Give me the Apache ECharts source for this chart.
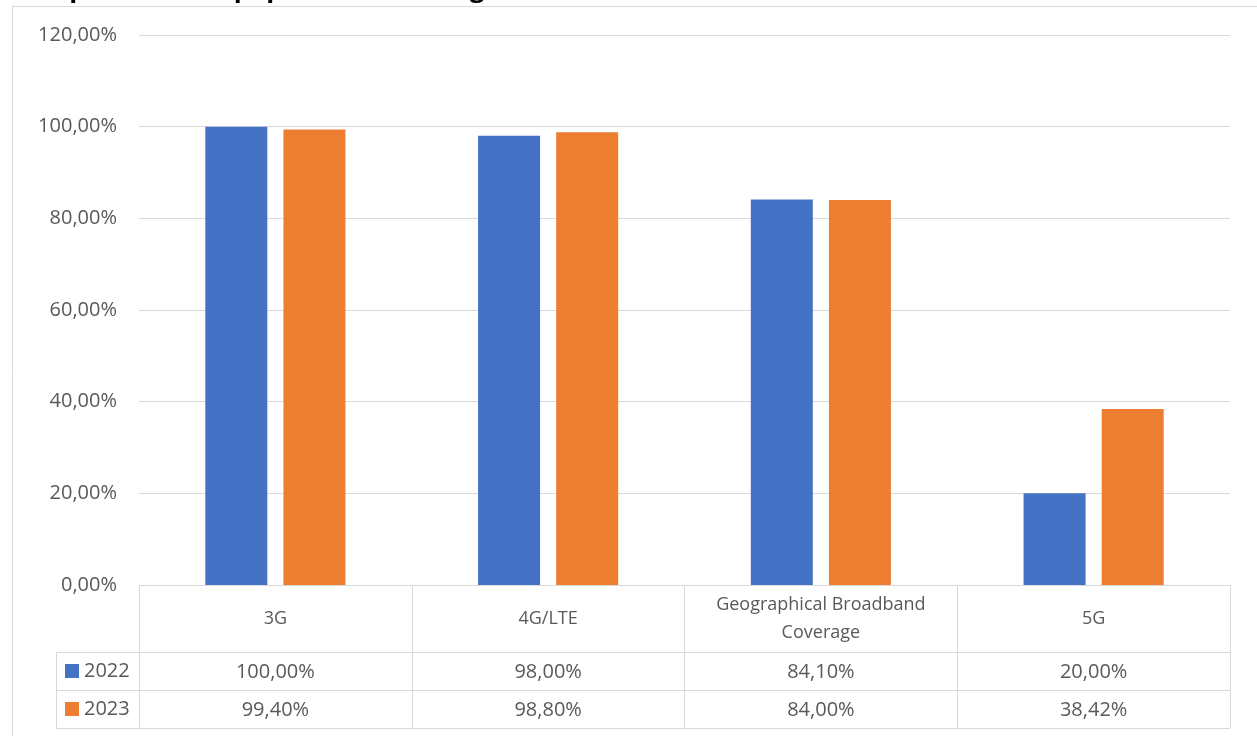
<!DOCTYPE html>
<html>
<head>
<meta charset="utf-8">
<script src="https://cdn.jsdelivr.net/npm/echarts@6/dist/echarts.min.js"></script>
<style>
  html, body { margin: 0; padding: 0; background: #ffffff; }
  #chart { width: 1257px; height: 736px; }
</style>
</head>
<body>
<div id="chart"></div>
<script>
// Coverage categories and yearly values (percent)
const categories = ['3G', '4G/LTE', 'Geographical Broadband\nCoverage', '5G'];
const years = ['2022', '2023'];
const values2022 = [100.00, 98.00, 84.10, 20.00];
const values2023 = [99.40, 98.80, 84.00, 38.42];
const yTicks = [0, 20, 40, 60, 80, 100, 120];
const titleText = 'Graph 4: Mobile population coverage of 3G, 4G, 5G and GBB in 2022–2023';

const FONT = '"Open Sans", sans-serif';
const TEXT_COLOR = '#595959';
const LINE_COLOR = '#d9d9d9';
const BLUE = '#4472C4';
const ORANGE = '#ED7D31';
const NUM_SIZE = 20;
const CAT_SIZE = 18;

// Plot area in px
const G = { left: 139, top: 35, right: 1230, bottom: 585 };
const ROW1 = 652, ROW2 = 690, ROW3 = 728, LEGEND_LEFT = 56;

const pct = v => v.toFixed(2).replace('.', ',') + '%';

const chart = echarts.init(document.getElementById('chart'), null, { renderer: 'canvas' });

function rowAxis(labels, margin) {
  return {
    type: 'category',
    position: 'bottom',
    gridIndex: 0,
    data: labels,
    axisLine: { show: false },
    axisTick: { show: false },
    splitLine: { show: false },
    axisLabel: {
      interval: 0,
      margin: margin,
      verticalAlign: 'middle',
      color: TEXT_COLOR,
      fontFamily: FONT,
      fontSize: NUM_SIZE
    }
  };
}

chart.setOption({
  backgroundColor: '#ffffff',
  animation: false,
  title: {
    text: titleText,
    left: 18,
    top: -28,
    textStyle: { fontFamily: FONT, fontWeight: 'bold', fontSize: 26, color: '#000000' }
  },
  grid: {
    left: G.left,
    top: G.top,
    width: G.right - G.left,
    height: G.bottom - G.top,
    containLabel: false
  },
  legend: {
    orient: 'vertical',
    left: 60,
    top: 656,
    itemWidth: 14,
    itemHeight: 14,
    itemGap: 18,
    icon: 'rect',
    data: years,
    textStyle: { fontFamily: FONT, fontSize: NUM_SIZE, color: TEXT_COLOR }
  },
  xAxis: [
    {
      type: 'category',
      data: categories,
      axisLine: { show: true, lineStyle: { color: LINE_COLOR, width: 1 } },
      axisTick: {
        show: true,
        interval: 0,
        alignWithLabel: false,
        length: ROW3 - G.bottom,
        lineStyle: { color: LINE_COLOR, width: 1 }
      },
      axisLabel: {
        interval: 0,
        margin: 34,
        verticalAlign: 'middle',
        lineHeight: 28,
        color: TEXT_COLOR,
        fontFamily: FONT,
        fontSize: CAT_SIZE
      }
    },
    rowAxis(values2022.map(pct), (ROW1 + ROW2) / 2 - G.bottom + 1),
    rowAxis(values2023.map(pct), (ROW2 + ROW3) / 2 - G.bottom + 1)
  ],
  yAxis: {
    type: 'value',
    min: yTicks[0],
    max: yTicks[yTicks.length - 1],
    interval: 20,
    axisLine: { show: false },
    axisTick: { show: false },
    splitLine: { lineStyle: { color: LINE_COLOR, width: 1 } },
    axisLabel: {
      margin: 22,
      color: TEXT_COLOR,
      fontFamily: FONT,
      fontSize: NUM_SIZE,
      formatter: v => pct(v)
    }
  },
  series: [
    {
      name: years[0],
      type: 'bar',
      xAxisIndex: 0,
      data: values2022,
      barWidth: 62,
      barGap: '26%',
      itemStyle: { color: BLUE }
    },
    {
      name: years[1],
      type: 'bar',
      xAxisIndex: 0,
      data: values2023,
      barWidth: 62,
      barGap: '26%',
      itemStyle: { color: ORANGE }
    }
  ],
  graphic: [
    // outer chart frame
    { type: 'rect', silent: true, z: -1,
      shape: { x: 12.5, y: 6.5, width: 1300, height: 800 },
      style: { fill: null, stroke: LINE_COLOR, lineWidth: 1 } },
    // data table rules
    { type: 'line', silent: true, shape: { x1: LEGEND_LEFT, y1: ROW1 + 0.5, x2: G.right, y2: ROW1 + 0.5 },
      style: { stroke: LINE_COLOR, lineWidth: 1 } },
    { type: 'line', silent: true, shape: { x1: LEGEND_LEFT, y1: ROW2 + 0.5, x2: G.right, y2: ROW2 + 0.5 },
      style: { stroke: LINE_COLOR, lineWidth: 1 } },
    { type: 'line', silent: true, shape: { x1: LEGEND_LEFT, y1: ROW3 + 0.5, x2: G.right, y2: ROW3 + 0.5 },
      style: { stroke: LINE_COLOR, lineWidth: 1 } },
    { type: 'line', silent: true, shape: { x1: LEGEND_LEFT + 0.5, y1: ROW1, x2: LEGEND_LEFT + 0.5, y2: ROW3 },
      style: { stroke: LINE_COLOR, lineWidth: 1 } }
  ]
});
</script>
</body>
</html>
